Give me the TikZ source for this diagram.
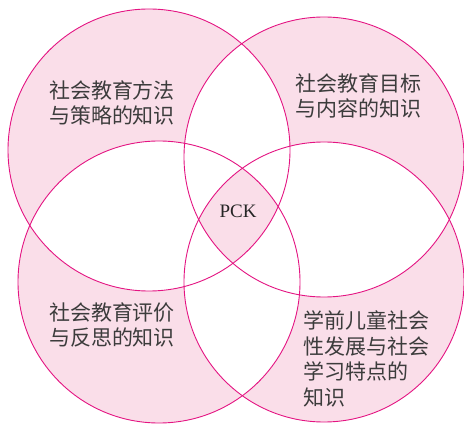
\documentclass[tikz,border=0pt]{standalone}
\usepackage{fontspec}
\setmainfont{Liberation Serif}
\newfontfamily\cjk{Noto Sans CJK SC}
\definecolor{ring}{RGB}{228,20,130}
\definecolor{petal}{RGB}{250,222,233}
\definecolor{ink}{RGB}{60,60,60}
\begin{document}
\begin{tikzpicture}[x=1pt,y=1pt,
  lab/.style={font=\cjk\fontsize{21}{25.6}\selectfont, text=ink, inner sep=0pt},
  rim/.style={draw=ring, line width=0.9pt}]
\useasboundingbox (0,0) rectangle (464,424);
\coordinate (A) at (149,274);
\coordinate (B) at (324,267);
\coordinate (C) at (159,142);
\coordinate (D) at (324,142);
\def\rA{141}\def\rB{140}\def\rC{141}\def\rD{140}
% single-circle regions pink
\fill[petal] (A) circle[radius=\rA];
\fill[petal] (B) circle[radius=\rB];
\fill[petal] (C) circle[radius=\rC];
\fill[petal] (D) circle[radius=\rD];
% any overlap white
\begin{scope}
  \clip (A) circle[radius=\rA];
  \fill[white] (B) circle[radius=\rB];
  \fill[white] (C) circle[radius=\rC];
  \fill[white] (D) circle[radius=\rD];
\end{scope}
\begin{scope}
  \clip (B) circle[radius=\rB];
  \fill[white] (C) circle[radius=\rC];
  \fill[white] (D) circle[radius=\rD];
\end{scope}
\begin{scope}
  \clip (C) circle[radius=\rC];
  \fill[white] (D) circle[radius=\rD];
\end{scope}
% centre (all four) pink
\begin{scope}
  \clip (A) circle[radius=\rA];
  \clip (B) circle[radius=\rB];
  \clip (C) circle[radius=\rC];
  \fill[petal] (D) circle[radius=\rD];
\end{scope}
% outlines
\draw[rim] (A) circle[radius=\rA];
\draw[rim] (B) circle[radius=\rB];
\draw[rim] (C) circle[radius=\rC];
\draw[rim] (D) circle[radius=\rD];
% labels
\node[lab, align=center] (ta) at (112,321) {社会教育方法\\与策略的知识};
\node[lab, align=center] (tb) at (358,328) {社会教育目标\\与内容的知识};
\node[lab, align=center] (tc) at (112,99) {社会教育评价\\与反思的知识};
\node[lab, align=left, anchor=west] (td) at (303,65) {学前儿童社会\\性发展与社会\\学习特点的\\知识};
\node[font=\fontsize{19}{22}\selectfont, text=black!85, inner sep=0pt] (pck) at (238,213) {PCK};
\end{tikzpicture}
\end{document}
